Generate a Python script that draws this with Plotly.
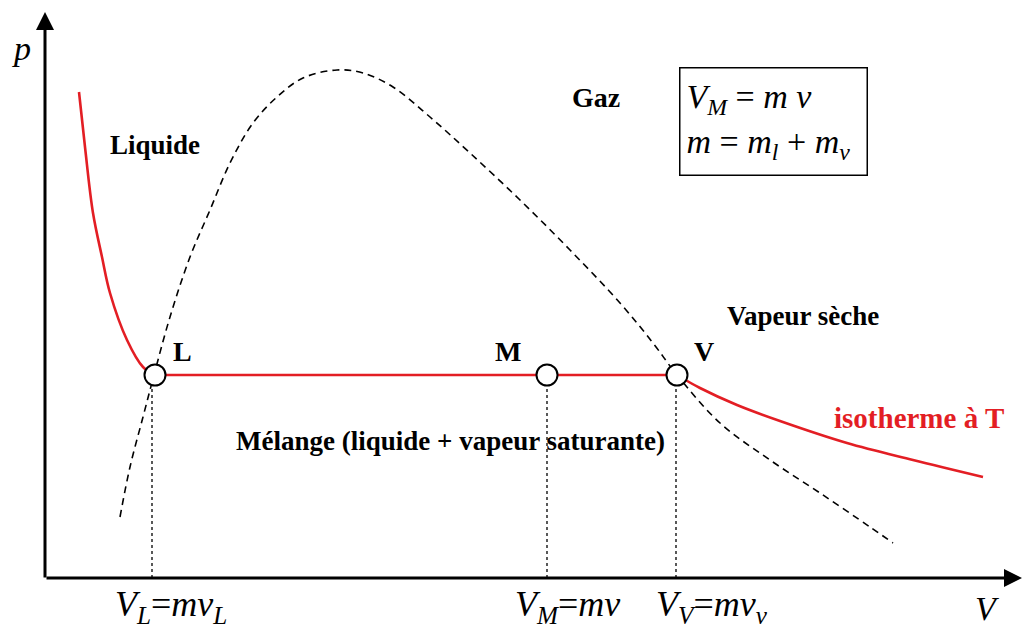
import plotly.graph_objects as go

# ---- data (V in arbitrary volume units, p in arbitrary pressure units) ----
# saturation dome (dashed)
dome_V = [0.75, 0.85, 0.98, 1.09, 1.25, 1.45, 1.65, 1.85, 2.08, 2.32, 2.58, 2.92,
          3.18, 3.48, 3.85, 4.25, 4.75, 5.25, 5.75, 6.08, 6.32, 6.75, 7.25, 7.75,
          8.25, 8.48]
dome_p = [1.22, 2.22, 3.22, 4.06, 5.22, 6.42, 7.36, 8.30, 9.10, 9.62, 10.00, 10.16,
          10.10, 9.82, 9.22, 8.50, 7.56, 6.56, 5.50, 4.70, 4.06, 3.10, 2.36, 1.70,
          1.02, 0.70]

# isotherm at T : liquid branch, plateau, vapour branch
liq_V = [0.34, 0.40, 0.48, 0.57, 0.65, 0.82, 0.98, 1.10]
liq_p = [9.72, 8.62, 7.30, 6.42, 5.70, 4.76, 4.22, 4.06]
vap_V = [6.32, 6.55, 6.92, 7.35, 8.02, 8.68, 9.38]
vap_p = [4.06, 3.80, 3.46, 3.14, 2.70, 2.36, 2.02]

p_sat = 4.06
point_names = ["L", "M", "V"]
point_V = [1.10, 5.02, 6.32]
drop_V = [1.07, 5.02, 6.31]

# ---- frame: axis origin sits at pixel (45, 578), 100 px per V unit, 50 px per p unit ----
W, H = 1024, 633
X0, Y0 = 45, 578
SX, SY = 100.0, 50.0
x_range = [-X0 / SX, (W - X0) / SX]
y_range = [-(H - Y0) / SY, Y0 / SY]

RED = "#e31e24"
SERIF = "Liberation Serif, Times New Roman, serif"

fig = go.Figure()

# dotted drop lines from each point to the V axis
for v in drop_V:
    fig.add_trace(go.Scatter(x=[v, v], y=[0, p_sat], mode="lines",
                             line=dict(color="black", width=1.3, dash="dot"),
                             hoverinfo="skip"))

# saturation curve
fig.add_trace(go.Scatter(x=dome_V, y=dome_p, mode="lines",
                         line=dict(color="black", width=1.6, dash="7px,5px", shape="spline"),
                         hoverinfo="skip"))

# isotherm
fig.add_trace(go.Scatter(x=liq_V, y=liq_p, mode="lines",
                         line=dict(color=RED, width=2.6, shape="spline"), hoverinfo="skip"))
fig.add_trace(go.Scatter(x=[point_V[0], point_V[-1]], y=[p_sat, p_sat], mode="lines",
                         line=dict(color=RED, width=2.6), hoverinfo="skip"))
fig.add_trace(go.Scatter(x=vap_V, y=vap_p, mode="lines",
                         line=dict(color=RED, width=2.6, shape="spline"), hoverinfo="skip"))

# L, M, V points
fig.add_trace(go.Scatter(x=point_V, y=[p_sat] * len(point_V), mode="markers",
                         marker=dict(symbol="circle", size=21, color="white",
                                     line=dict(color="black", width=2)),
                         hoverinfo="skip"))

annotations = []

# axes with arrow heads
annotations.append(dict(x=x_range[1] - 0.02, y=0, ax=0, ay=0, xref="x", yref="y",
                        axref="x", ayref="y", showarrow=True, arrowhead=2,
                        arrowwidth=3, arrowsize=1.2, arrowcolor="black", text=""))
annotations.append(dict(x=0, y=(Y0 - 12) / SY, ax=0, ay=-0.02, xref="x", yref="y",
                        axref="x", ayref="y", showarrow=True, arrowhead=2,
                        arrowwidth=3, arrowsize=1.2, arrowcolor="black", text=""))


def label(x, y, text, size, color="black"):
    annotations.append(dict(x=x, y=y, xref="x", yref="y", text=text, showarrow=False,
                            xanchor="center", yanchor="middle",
                            font=dict(family=SERIF, size=size, color=color)))


# axis names
label(-0.24, 10.60, "<i>p</i>", 34)
label(9.42, -0.60, "<i>V</i>", 34)

# region names
label(1.10, 8.66, "<b>Liquide</b>", 27)
label(5.51, 9.62, "<b>Gaz</b>", 28)
label(7.58, 5.24, "<b>Vapeur sèche</b>", 27)
label(4.05, 2.74, "<b>Mélange (liquide + vapeur saturante)</b>", 27)
label(9.19 - 0.45, 3.20, "<b>isotherme à T</b>", 29, RED)

# point names
for name, v, dx in zip(point_names, point_V, [0.27, -0.39, 0.27]):
    label(v + dx, p_sat + 0.48, f"<b>{name}</b>", 28)

# volume labels below the axis
label(1.26, -0.56, "<i>V</i><sub><i>L</i></sub>=<i>mv</i><sub><i>L</i></sub>", 36)
label(5.22, -0.56, "<i>V</i><sub><i>M</i></sub>=<i>mv</i>", 36)
label(6.67, -0.56, "<i>V</i><sub><i>V</i></sub>=<i>mv</i><sub><i>v</i></sub>", 36)

# relations box
annotations.append(dict(
    x=7.28, y=9.14, xref="x", yref="y", showarrow=False,
    xanchor="center", yanchor="middle", align="left",
    text=("<i>V</i><sub><i>M</i></sub> = <i>m v</i><br>"
          "<i>m</i> = <i>m</i><sub><i>l</i></sub> + <i>m</i><sub><i>v</i></sub>"),
    font=dict(family=SERIF, size=34, color="black"),
    bordercolor="black", borderwidth=1.5, borderpad=6,
    width=174, height=94, bgcolor="white"))

fig.update_layout(
    width=W, height=H,
    margin=dict(l=0, r=0, t=0, b=0),
    paper_bgcolor="white", plot_bgcolor="white",
    showlegend=False,
    xaxis=dict(range=x_range, visible=False, fixedrange=True),
    yaxis=dict(range=y_range, visible=False, fixedrange=True),
    annotations=annotations,
)

fig.write_html("out.html")
